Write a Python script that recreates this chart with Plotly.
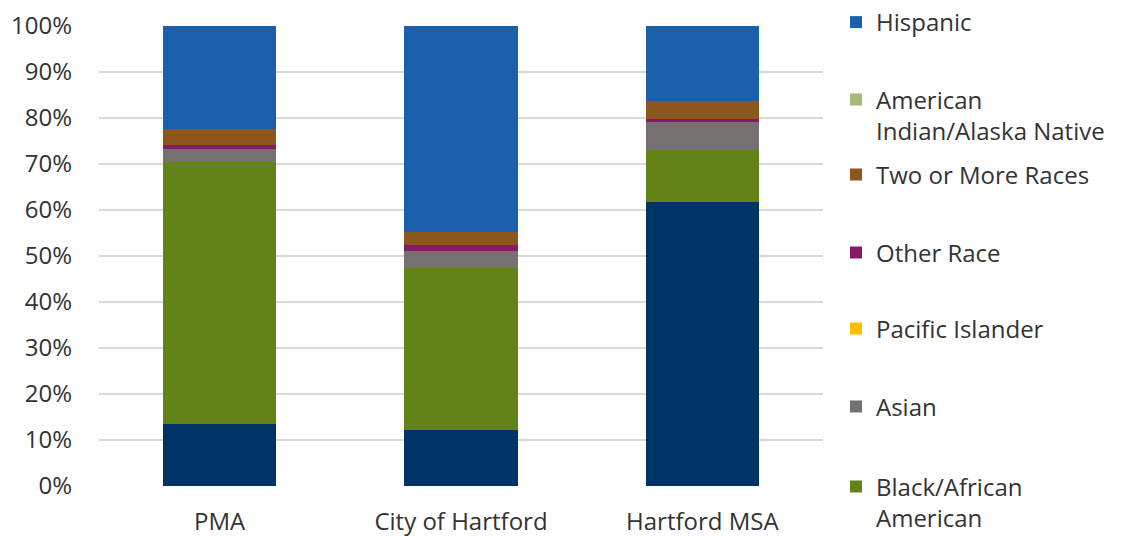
import plotly.graph_objects as go

categories = ["PMA", "City of Hartford", "Hartford MSA"]

# Shares (%) stacked bottom to top
white = [13.5, 12.2, 61.8]
black = [56.9, 35.2, 11.3]
asian = [2.9, 3.7, 6.2]
pacific = [0.0, 0.0, 0.0]
other = [0.8, 1.3, 0.4]
two_or_more = [3.6, 2.8, 3.9]
am_indian = [0.0, 0.0, 0.0]
hispanic = [22.3, 44.8, 16.4]

# (name, values, colour, legend id or None)
series = [
    ("White", white, "#003366", None),
    ("Black/African<br>American", black, "#638218", "legend7"),
    ("Asian", asian, "#767171", "legend6"),
    ("Pacific Islander", pacific, "#FFC000", "legend5"),
    ("Other Race", other, "#861A68", "legend4"),
    ("Two or More Races", two_or_more, "#8B571E", "legend3"),
    ("American<br>Indian/Alaska Native", am_indian, "#A5B978", "legend2"),
    ("Hispanic", hispanic, "#1C5FAB", "legend"),
]

FONT = "Open Sans, Noto Sans, sans-serif"
TEXT = "#333333"

fig = go.Figure()
for name, vals, color, leg in series:
    fig.add_trace(go.Bar(
        x=categories,
        y=[v / 100 for v in vals],
        name=name,
        showlegend=leg is not None,
        legend=leg if leg else "legend",
        marker=dict(color=color, line=dict(width=0)),
    ))

# first-line centre (px from top) of each legend entry
legend_rows = {
    "legend": 20, "legend2": 102, "legend3": 177, "legend4": 255,
    "legend5": 331, "legend6": 409, "legend7": 489,
}
H = 536
legends = {}
for key, c in legend_rows.items():
    top = c - 24.7
    legends[key] = dict(
        x=836 / 1124, xref="container", xanchor="left",
        y=1 - top / H, yref="container", yanchor="top",
        valign="top",
        maxheight=900,
        font=dict(family=FONT, size=24, color=TEXT),
        itemclick=False,
        bgcolor="rgba(0,0,0,0)",
    )

fig.update_layout(
    barmode="stack",
    bargap=0.53,
    width=1124,
    height=H,
    margin=dict(l=99, r=301, t=26, b=50, autoexpand=False),
    paper_bgcolor="white",
    plot_bgcolor="white",
    font=dict(family=FONT, size=24, color=TEXT),
    yaxis=dict(
        range=[0, 1],
        tickvals=[i / 10 for i in range(11)],
        tickformat=".0%",
        showgrid=True,
        gridcolor="#D9D9D9",
        gridwidth=2,
        zeroline=False,
        showline=False,
        ticks="",
        ticklabelstandoff=26,
        automargin=False,
    ),
    xaxis=dict(
        showline=False,
        ticks="",
        ticklabelstandoff=19,
        automargin=False,
    ),
    **legends,
)

fig.write_html("out.html")
